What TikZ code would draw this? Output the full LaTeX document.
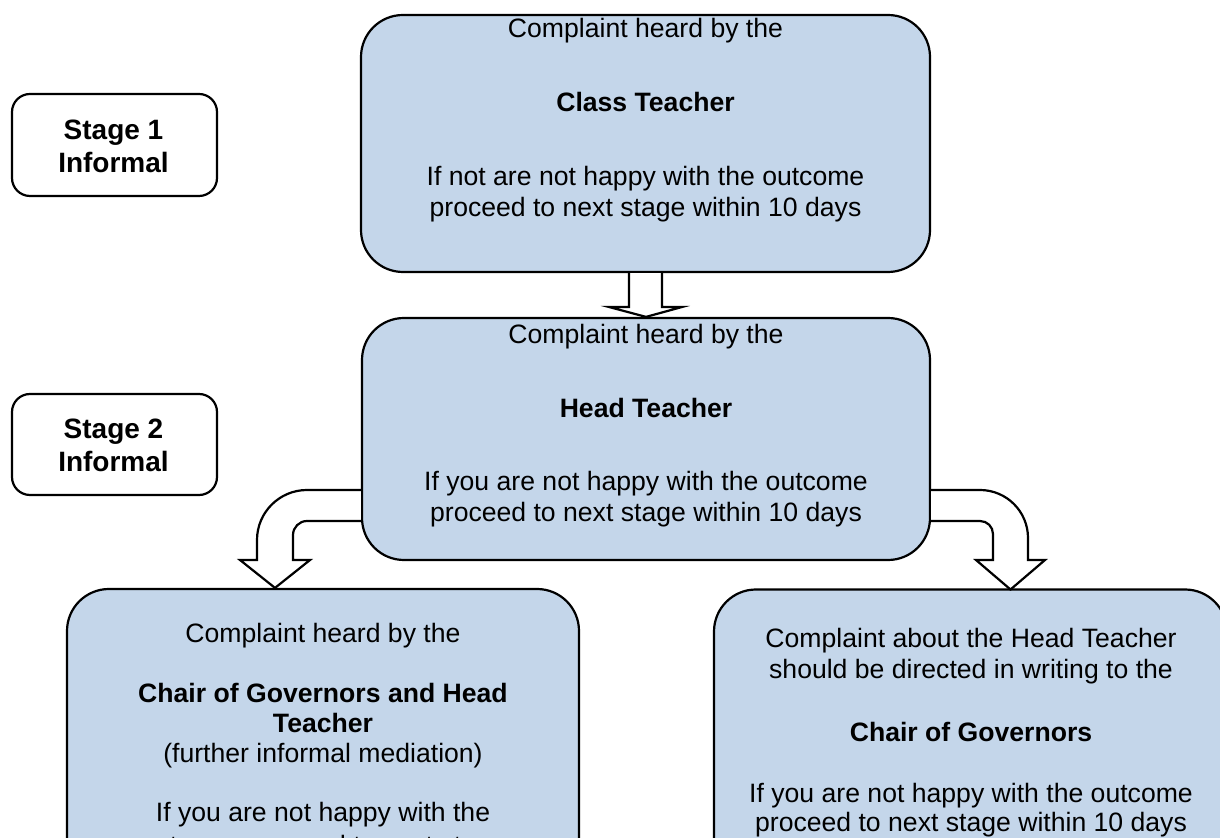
\documentclass[tikz,border=0pt]{standalone}
\usepackage{fontspec}
\setmainfont{Liberation Sans}
\usetikzlibrary{calc}
\definecolor{boxblue}{RGB}{196,214,234}
\tikzset{
  x=0.5pt, y=-0.5pt,
  bluebox/.style={draw=black, line width=1.1pt, fill=boxblue, rounded corners=21pt, inner sep=0pt},
  stagebox/.style={draw=black, line width=1.1pt, fill=white, rounded corners=9pt, inner sep=0pt},
  txt/.style={anchor=base, inner sep=0pt, font=\fontsize{13.3}{15.5}\selectfont},
  btxt/.style={txt, font=\fontsize{13.3}{15.5}\selectfont\bfseries},
  stxt/.style={txt, font=\fontsize{14}{16}\selectfont\bfseries},
  blockarrow/.style={draw=black, line width=1.1pt, fill=white, line join=miter}
}
\begin{document}
\begin{tikzpicture}
\useasboundingbox (0,0) rectangle (1220,838);
\clip (0,0) rectangle (1220,838);
% boxes
\node[bluebox, minimum width=284.5pt, minimum height=128.5pt] (b1) at (645.5,143.5) {};
\node[bluebox, minimum width=284pt, minimum height=121pt] (b2) at (646,439) {};
\node[bluebox, minimum width=256pt, minimum height=205.5pt] (b3) at (323,794.5) {};
\node[bluebox, minimum width=256.5pt, minimum height=205.5pt] (b4) at (970.5,795) {};
\node[stagebox, minimum width=102.5pt, minimum height=51pt] (s1) at (114.5,145) {};
\node[stagebox, minimum width=102.5pt, minimum height=50.5pt] (s2) at (114.5,444.5) {};
% stage texts
\node[stxt] (s1a) at (113.5,140) {Stage 1};
\node[stxt] (s1b) at (113.5,173) {Informal};
\node[stxt] (s2a) at (113.5,439) {Stage 2};
\node[stxt] (s2b) at (113.5,472) {Informal};
% top box texts
\node[txt] (t1a) at (645.5,38) {Complaint heard by the};
\node[btxt] (t1b) at (645.5,112) {Class Teacher};
\node[txt] (t1c) at (645.5,186) {If not are not happy with the outcome};
\node[txt] (t1d) at (645.5,217) {proceed to next stage within 10 days};
% second box texts
\node[txt] (t2a) at (646,344) {Complaint heard by the};
\node[btxt] (t2b) at (646,418) {Head Teacher};
\node[txt] (t2c) at (646,491) {If you are not happy with the outcome};
\node[txt] (t2d) at (646,522) {proceed to next stage within 10 days};
% left bottom texts
\node[txt] (t3a) at (323,643) {Complaint heard by the};
\node[btxt] (t3b) at (323,703) {Chair of Governors and Head};
\node[btxt] (t3c) at (323,733) {Teacher};
\node[txt] (t3d) at (323,762) {(further informal mediation)};
\node[txt] (t3e) at (323,821) {If you are not happy with the};
\node[txt] (t3f) at (323,854) {outcome proceed to next stage};
% right bottom texts
\node[txt] (t4a) at (971,647) {Complaint about the Head Teacher};
\node[txt] (t4b) at (971,678) {should be directed in writing to the};
\node[btxt] (t4c) at (971,741) {Chair of Governors};
\node[txt] (t4d) at (971,802) {If you are not happy with the outcome};
\node[txt] (t4e) at (971,831) {proceed to next stage within 10 days};
% straight block arrow b1 -> b2
\draw[blockarrow] ($(b1.south)+(-16.5,0)$) -- (629,307) -- (609,307) -- (b2.north) -- (682,307) -- (662,307) -- ($(b1.south)+(16.5,0)$);
% curved block arrow b2 -> b3
\draw[blockarrow] ($(b2.west)+(0,51)$) -- (307,490)
   .. controls (279.4,490) and (257,512.4) .. (257,540)
   -- (257,560) -- (240,560) -- ($(b3.north)+(-48,0)$) -- (310,560) -- (293,560) -- (293,535)
   .. controls (293,527.3) and (299.3,521) .. (307,521)
   -- ($(b2.west)+(0,82)$);
% curved block arrow b2 -> b4
\draw[blockarrow] ($(b2.east)+(0,51)$) -- (980,490)
   .. controls (1006.5,490) and (1028,511.5) .. (1028,538)
   -- (1028,560) -- (1045,560) -- (1010.5,589.5) -- (976,560) -- (993,560) -- (993,534)
   .. controls (993,526.8) and (987.2,521) .. (980,521)
   -- ($(b2.east)+(0,82)$);
\end{tikzpicture}
\end{document}
